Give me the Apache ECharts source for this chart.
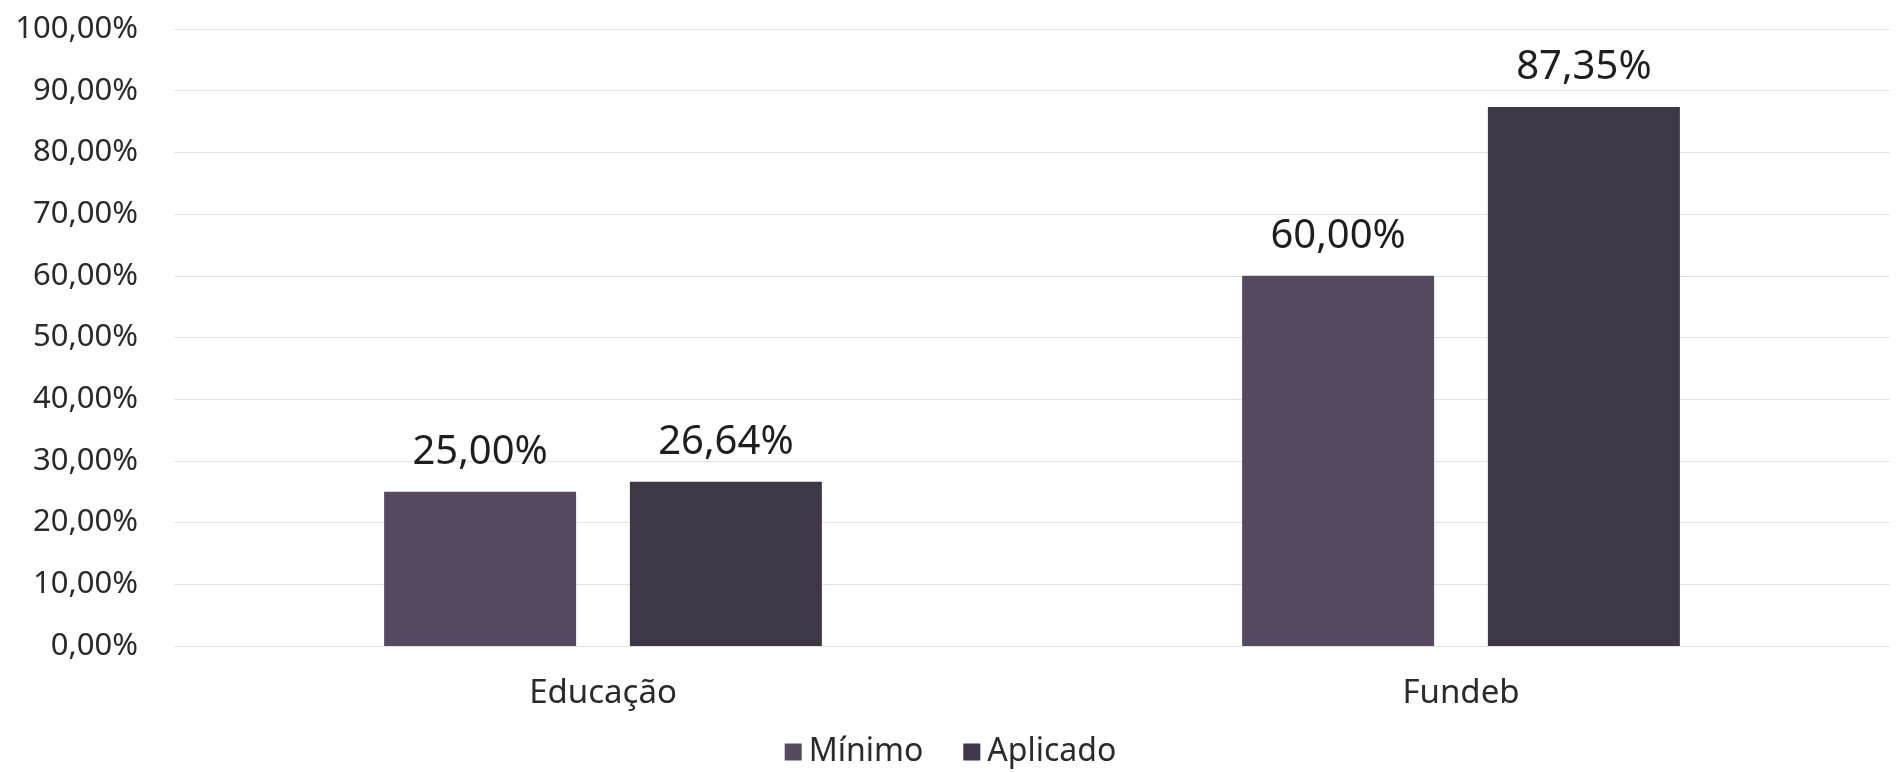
<!DOCTYPE html>
<html>
<head>
<meta charset="utf-8">
<script src="https://cdn.jsdelivr.net/npm/echarts@6/dist/echarts.min.js"></script>
<style>
html,body{margin:0;padding:0;background:#fff;}
#chart{width:1901px;height:772px;}
</style>
</head>
<body>
<div id="chart"></div>
<script>
const categories = ['Educação', 'Fundeb'];
const minimoValues = [25.00, 60.00];
const aplicadoValues = [26.64, 87.35];
const seriesNames = ['Mínimo', 'Aplicado'];
const yTicks = { min: 0, max: 100, interval: 10 };

const FONT = '"Noto Sans", "Open Sans", sans-serif';
const fmt = v => v.toFixed(2).replace('.', ',') + '%';

const chart = echarts.init(document.getElementById('chart'));
chart.setOption({
  animation: false,
  backgroundColor: '#ffffff',
  textStyle: { fontFamily: FONT },
  grid: { left: 174, right: 11, top: 29, bottom: 126 },
  legend: {
    data: seriesNames,
    top: 731,
    left: 'center',
    icon: 'rect',
    itemWidth: 17,
    itemHeight: 17,
    itemGap: 40,
    textStyle: { fontFamily: FONT, fontSize: 32, color: '#2a2a2a', padding: [0, 0, 0, 2] }
  },
  xAxis: {
    type: 'category',
    data: categories,
    axisLine: { show: false },
    axisTick: { show: false },
    axisLabel: { fontFamily: FONT, fontSize: 33, color: '#2a2a2a', margin: 31 }
  },
  yAxis: {
    type: 'value',
    min: yTicks.min,
    max: yTicks.max,
    interval: yTicks.interval,
    axisLine: { show: false },
    axisTick: { show: false },
    axisLabel: { fontFamily: FONT, fontSize: 31, color: '#2a2a2a', margin: 36, formatter: v => fmt(v) },
    splitLine: { lineStyle: { color: '#e2e2e2', width: 1 } }
  },
  series: [
    {
      name: seriesNames[0],
      type: 'bar',
      data: minimoValues,
      barWidth: 192,
      barGap: '28%',
      itemStyle: { color: '#544b60' },
      label: { show: true, position: 'top', distance: 19, fontFamily: FONT, fontSize: 40, color: '#1e1e1e', formatter: p => fmt(p.value) }
    },
    {
      name: seriesNames[1],
      type: 'bar',
      data: aplicadoValues,
      barWidth: 192,
      barGap: '28%',
      itemStyle: { color: '#3d3847' },
      label: { show: true, position: 'top', distance: 19, fontFamily: FONT, fontSize: 40, color: '#1e1e1e', formatter: p => fmt(p.value) }
    }
  ]
});
</script>
</body>
</html>
